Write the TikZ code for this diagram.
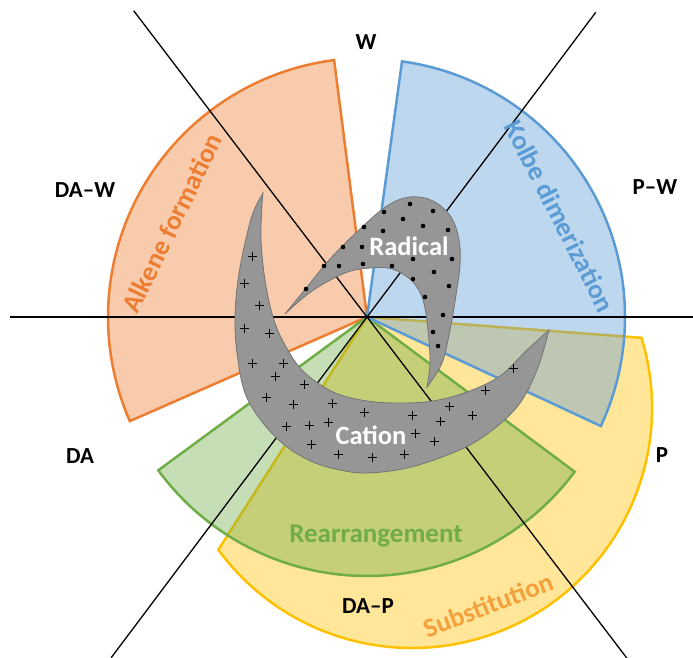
\documentclass[tikz,border=0pt]{standalone}
\usepackage{fontspec}
\setmainfont{Carlito}
\usetikzlibrary{calc}
\definecolor{ora}{HTML}{ED7D31}
\definecolor{blu}{HTML}{5B9BD5}
\definecolor{grn}{HTML}{70AD47}
\definecolor{yel}{HTML}{FFC000}
\definecolor{subst}{RGB}{244,160,60}
\definecolor{shapegrey}{RGB}{150,150,150}
\definecolor{shapeedge}{RGB}{115,115,115}
\begin{document}
\begin{tikzpicture}[x=1pt,y=1pt,
  sector/.style={line width=2.5pt, fill opacity=0.4, line join=miter},
  axisline/.style={line width=1.3pt, draw=black},
  blob/.style={fill=shapegrey, draw=shapeedge, line width=0.8pt},
  zone/.style={font=\bfseries\fontsize{23}{27}\selectfont, text=black, inner sep=0pt},
  proc/.style={font=\bfseries\fontsize{27}{32}\selectfont, inner sep=0pt},
  species/.style={font=\bfseries\fontsize{26.5}{31}\selectfont, text=white, inner sep=0pt},
]
\useasboundingbox (0,0) rectangle (693,-658);
\coordinate (C) at (367,-317);
\coordinate (O) at (412,-408);

% sectors
\filldraw[sector, draw=ora, fill=ora] (C) -- ($(C)+(97.3:259pt)$) arc[start angle=97.3, end angle=203.7, radius=259pt] -- cycle;
\filldraw[sector, draw=yel, fill=yel] (C) -- ($(O)+(17:240pt)$) arc[start angle=17, end angle=-143.8, radius=240pt] -- cycle;
\filldraw[sector, draw=grn, fill=grn] (C) -- ($(C)+(216.3:259pt)$) arc[start angle=216.3, end angle=323.3, radius=259pt] -- cycle;
\filldraw[sector, draw=blu, fill=blu] (C) -- ($(C)+(-25:258pt)$) arc[start angle=-25, end angle=82.2, radius=258pt] -- cycle;

% axes
\coordinate (hL) at (10,-317);
\coordinate (hR) at (693,-317);
\coordinate (aTL) at ($(C)+(127.3:385pt)$);
\coordinate (aBR) at ($(C)+(-52.7:430pt)$);
\coordinate (aTR) at ($(C)+(53.1:381pt)$);
\coordinate (aBL) at ($(C)+(233.1:426pt)$);
\draw[axisline] (hL) -- (hR);
\draw[axisline] (aTL) -- (aBR);
\draw[axisline] (aTR) -- (aBL);

% cation crescent
\filldraw[blob] plot[smooth, tension=0.6] coordinates {(263,-193) (253,-213) (245,-243) (238,-280) (235,-317) (237,-353) (245,-393) (263,-423) (287,-447) (313,-462) (340,-470) (367,-473) (407,-468) (450,-454) (483,-437) (517,-407) (537,-370) (549,-330)}
  -- plot[smooth, tension=0.6] coordinates {(549,-330) (527,-350) (500,-376) (467,-392) (433,-401) (400,-403) (367,-401) (333,-392) (303,-371) (285,-345) (273,-317) (265,-280) (261,-240) (262,-205) (263,-193)} -- cycle;

% radical crescent
\filldraw[blob] plot[smooth, tension=0.6] coordinates {(285,-314) (307,-287) (330,-259) (360,-229) (387,-206) (410,-197) (433,-201) (451,-217) (459,-240) (460,-265) (456,-295) (450,-330) (442,-363) (427,-387)}
  -- plot[smooth, tension=0.6] coordinates {(427,-387) (430,-363) (428,-330) (423,-300) (412,-281) (392,-269) (370,-268) (345,-273) (312,-291) (285,-314)} -- cycle;

% radical dots
\foreach \x/\y in {410/204, 433/211, 384/212, 403/219, 423/226, 448/230, 364/227, 383/231, 343/247, 362/247, 413/259, 452/259, 324/266, 339/266, 363/264, 392/266, 434/272, 413/279, 449/286, 306/289, 425/297, 443/315, 433/332, 438/346}
  \fill[black] (\x,-\y) circle[radius=2.3pt];

% cation plus signs
\foreach \x/\y in {252/256, 244/283, 259/305, 244/328, 269/333, 252/363, 283/363, 275/376, 304/384, 266/397, 293/404, 332/403, 286/426, 309/425, 328/422, 364/412, 412/415, 449/406, 485/390, 513/368, 472/415, 440/421, 415/433, 434/441, 311/444, 338/454, 372/457, 404/454}
  \draw[black, line width=1pt] (\x-4.5,-\y) -- (\x+4.5,-\y) (\x,-\y-4.5) -- (\x,-\y+4.5);

% species labels
\node[species] (rad) at (409,-246) {Radical};
\node[species] (cat) at (371,-435) {Cation};

% process labels
\node[proc, text=ora, rotate=64] (alk) at (172,-223) {Alkene formation};
\node[proc, text=blu, rotate=-63] (kol) at (560,-216) {Kolbe dimerization};
\node[proc, text=grn] (rea) at (376,-536) {Rearrangement};
\node[proc, text=subst, rotate=21] (sub) at (488,-605) {Substitution};

% zone labels
\node[zone] (zW) at (366,-42) {W};
\node[zone] (zPW) at (655,-187) {P–W};
\node[zone] (zDAW) at (85,-190) {DA–W};
\node[zone] (zDA) at (80,-456) {DA};
\node[zone] (zP) at (662,-455) {P};
\node[zone] (zDAP) at (368,-606) {DA–P};
\end{tikzpicture}
\end{document}
